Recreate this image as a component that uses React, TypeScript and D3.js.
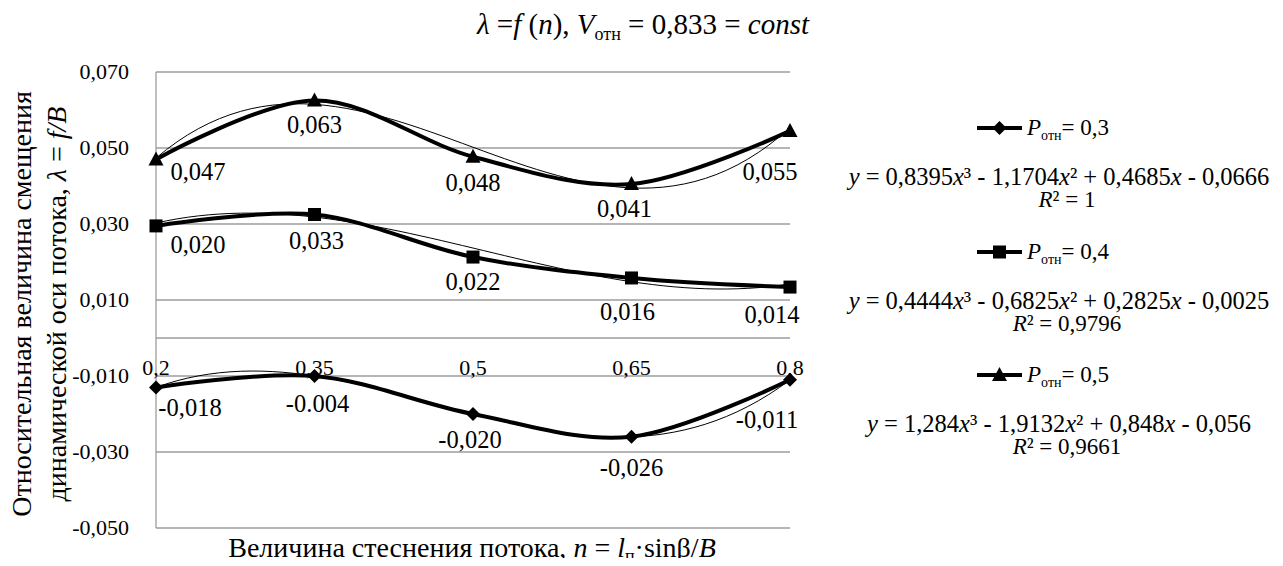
import React from "react";
import * as d3 from "d3";

// ---- data ----
const categories = [0.2, 0.35, 0.5, 0.65, 0.8];
const categoryLabels = ["0,2", "0,35", "0,5", "0,65", "0,8"];

const seriesP03 = [-0.013, -0.010, -0.020, -0.026, -0.011];
const seriesP04 = [0.0295, 0.0325, 0.0213, 0.0158, 0.0134];
const seriesP05 = [0.047, 0.0625, 0.0477, 0.0405, 0.0545];

const labelsP03 = ["-0,018", "-0.004", "-0,020", "-0,026", "-0,011"];
const labelsP04 = ["0,020", "0,033", "0,022", "0,016", "0,014"];
const labelsP05 = ["0,047", "0,063", "0,048", "0,041", "0,055"];

// trendline polynomial coefficients [a3, a2, a1, a0]
const trendP03 = [0.8395, -1.1704, 0.4685, -0.0666];
const trendP04 = [0.4444, -0.6825, 0.2825, -0.0025];
const trendP05 = [1.284, -1.9132, 0.848, -0.056];

const yTicks = [-0.05, -0.03, -0.01, 0.01, 0.03, 0.05, 0.07];

// label offsets (px) relative to points
const offsetsP03 = [[34, 21], [3, 28], [-3, 26], [0, 31], [-23, 40]];
const offsetsP04 = [[42, 19], [2, 26], [0, 25], [-4, 34], [-18, 28]];
const offsetsP05 = [[42, 13], [0, 24], [0, 26], [-7, 25], [-20, 41]];

const FS = { fontFamily: "Liberation Serif" };

const x = d3.scaleLinear().domain([0.2, 0.8]).range([156, 790]);
const y = d3.scaleLinear().domain([-0.05, 0.07]).range([528, 72]);

const fmt = (v: number) => d3.format(".3f")(v).replace(".", ",").replace("−", "-");

function markerPath(kind: string, cx: number, cy: number) {
  if (kind === "diamond") {
    const r = 7;
    return `M${cx},${cy - r}L${cx + r},${cy}L${cx},${cy + r}L${cx - r},${cy}Z`;
  }
  if (kind === "square") {
    const r = 6.5;
    return `M${cx - r},${cy - r}H${cx + r}V${cy + r}H${cx - r}Z`;
  }
  const w = 7.5;
  return `M${cx},${cy - 8}L${cx + w},${cy + 6}L${cx - w},${cy + 6}Z`;
}

const polyAt = (c: number[], t: number) => c[0] * t * t * t + c[1] * t * t + c[2] * t + c[3];

const series = [
  { values: seriesP03, labels: labelsP03, offsets: offsetsP03, trend: trendP03, marker: "diamond" },
  { values: seriesP04, labels: labelsP04, offsets: offsetsP04, trend: trendP04, marker: "square" },
  { values: seriesP05, labels: labelsP05, offsets: offsetsP05, trend: trendP05, marker: "triangle" },
];

const legendItems = [
  { marker: "diamond", p: "0,3", eq: ["0,8395", "1,1704", "0,4685", "0,0666"], eqSigns: ["-", "+", "-"], r2: "1", top: 128 },
  { marker: "square", p: "0,4", eq: ["0,4444", "0,6825", "0,2825", "0,0025"], eqSigns: ["-", "+", "-"], r2: "0,9796", top: 252 },
  { marker: "triangle", p: "0,5", eq: ["1,284", "1,9132", "0,848", "0,056"], eqSigns: ["-", "+", "-"], r2: "0,9661", top: 375 },
];

export default function App() {
  const line = d3
    .line<number>()
    .x((_, i) => x(categories[i]))
    .y((d) => y(d))
    .curve(d3.curveCardinal.tension(0));

  const tSamples = d3.range(0, 61).map((i) => 0.2 + (i * 0.6) / 60);

  return (
    <div style={{ margin: -8, fontFamily: "Liberation Serif" }}>
      <svg width={1283} height={566} style={{ display: "block", fontFamily: "Liberation Serif" }}>
        <rect x={0} y={0} width={1283} height={566} fill="#fff" />
        {/* Title */}
        <text x={643} y={34} fontSize={29} textAnchor="middle" style={FS}>
          <tspan fontStyle="italic">λ</tspan>
          <tspan> =</tspan>
          <tspan fontStyle="italic">f</tspan>
          <tspan> (</tspan>
          <tspan fontStyle="italic">n</tspan>
          <tspan>), </tspan>
          <tspan fontStyle="italic">V</tspan>
          <tspan fontSize={18} dy={6}>отн</tspan>
          <tspan dy={-6}> = 0,833 = </tspan>
          <tspan fontStyle="italic">const</tspan>
        </text>

        {/* gridlines */}
        {yTicks.map((t) => (
          <line key={t} x1={156} x2={790} y1={y(t)} y2={y(t)} stroke="#9d9d9d" strokeWidth={1.3} />
        ))}
        <line x1={156} x2={790} y1={y(0)} y2={y(0)} stroke="#9d9d9d" strokeWidth={1.3} />
        <line x1={156} x2={156} y1={y(0.07)} y2={y(-0.05)} stroke="#9d9d9d" strokeWidth={1.3} />

        {/* y tick labels */}
        {yTicks.map((t) => (
          <text key={t} x={129} y={y(t) + 7} fontSize={22} textAnchor="end" style={FS}>
            {fmt(t)}
          </text>
        ))}

        {/* category labels */}
        {categories.map((c, i) => (
          <text key={c} x={x(c)} y={375} fontSize={22} textAnchor="middle" style={FS}>
            {categoryLabels[i]}
          </text>
        ))}

        {/* series lines */}
        {series.map((s, si) => (
          <g key={si}>
            <path d={line(s.values) || ""} fill="none" stroke="#000" strokeWidth={4} />
            <path
              d={
                d3
                  .line<number>()
                  .x((t) => x(t))
                  .y((t) => y(polyAt(s.trend, t)))(tSamples) || ""
              }
              fill="none"
              stroke="#000"
              strokeWidth={1}
            />
            {s.values.map((v, i) => (
              <path key={i} d={markerPath(s.marker, x(categories[i]), y(v))} fill="#000" />
            ))}
            {s.values.map((v, i) => (
              <text
                key={"l" + i}
                x={x(categories[i]) + s.offsets[i][0]}
                y={y(v) + s.offsets[i][1] + 8}
                fontSize={24.5}
                textAnchor="middle"
                style={FS}
              >
                {s.labels[i]}
              </text>
            ))}
          </g>
        ))}

        {/* x axis title */}
        <text x={472} y={557} fontSize={28} textAnchor="middle" style={FS}>
          <tspan>Величина стеснения потока, </tspan>
          <tspan fontStyle="italic">n</tspan>
          <tspan> = </tspan>
          <tspan fontStyle="italic">l</tspan>
          <tspan fontSize={18} dy={5}>п</tspan>
          <tspan dy={-5}>·sinβ/</tspan>
          <tspan fontStyle="italic">B</tspan>
        </text>

        {/* y axis title */}
        <g transform="translate(31,304) rotate(-90)">
          <text x={0} y={0} fontSize={28} textAnchor="middle" style={FS}>
            Относительная величина смещения
          </text>
          <text x={0} y={35} fontSize={28} textAnchor="middle" style={FS}>
            <tspan>динамической оси потока, </tspan>
            <tspan fontStyle="italic">λ</tspan>
            <tspan> = </tspan>
            <tspan fontStyle="italic">f/B</tspan>
          </text>
        </g>

        {/* legend */}
        {legendItems.map((it, k) => (
          <g key={k}>
            <line x1={977} x2={1022} y1={it.top} y2={it.top} stroke="#000" strokeWidth={4} />
            <path d={markerPath(it.marker, 999.5, it.top)} fill="#000" />
            <text x={1027} y={it.top + 7} fontSize={23} style={FS}>
              <tspan fontStyle="italic">P</tspan>
              <tspan fontSize={14} dy={5}>отн</tspan>
              <tspan dy={-5}>= {it.p}</tspan>
            </text>
            <text x={1059} y={it.top + 57} fontSize={24.5} textAnchor="middle" style={FS}>
              <tspan fontStyle="italic">y</tspan>
              <tspan> = {it.eq[0]}</tspan>
              <tspan fontStyle="italic">x</tspan>
              <tspan>³ {it.eqSigns[0]} {it.eq[1]}</tspan>
              <tspan fontStyle="italic">x</tspan>
              <tspan>² {it.eqSigns[1]} {it.eq[2]}</tspan>
              <tspan fontStyle="italic">x</tspan>
              <tspan> {it.eqSigns[2]} {it.eq[3]}</tspan>
            </text>
            <text x={1067} y={it.top + 79} fontSize={23} textAnchor="middle" style={FS}>
              <tspan fontStyle="italic">R</tspan>
              <tspan>² = {it.r2}</tspan>
            </text>
          </g>
        ))}
      </svg>
    </div>
  );
}
